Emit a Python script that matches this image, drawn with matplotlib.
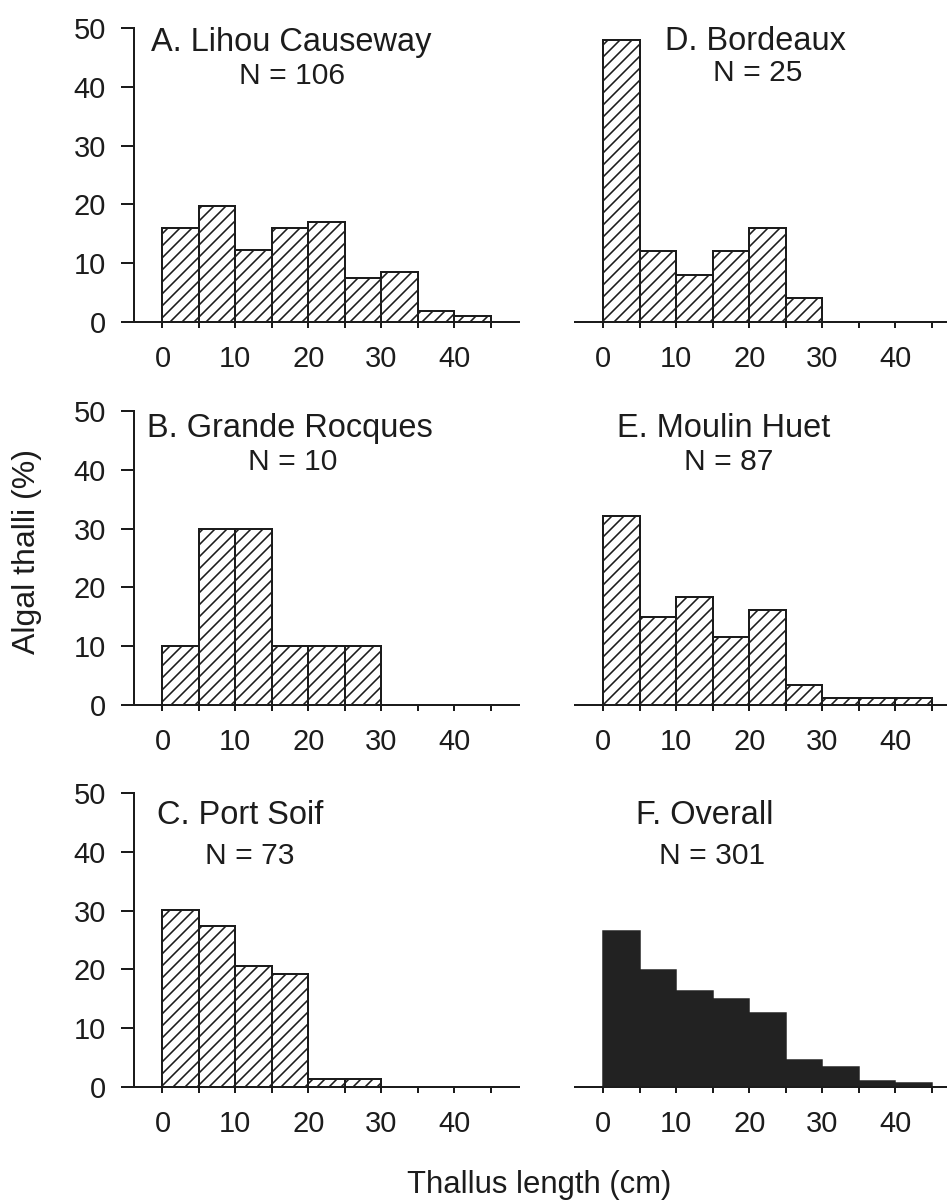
import numpy as np
import matplotlib
matplotlib.use("Agg")
import matplotlib.pyplot as plt

# bins of thallus length (cm), 5 cm wide
bin_edges = [0, 5, 10, 15, 20, 25, 30, 35, 40, 45]

# counts per bin (percent * N)
lihou = [17, 21, 13, 17, 18, 8, 9, 2, 1]
grande = [1, 3, 3, 1, 1, 1, 0, 0, 0]
portsoif = [22, 20, 15, 14, 1, 1, 0, 0, 0]
bordeaux = [12, 3, 2, 3, 4, 1, 0, 0, 0]
moulin = [28, 13, 16, 10, 14, 3, 1, 1, 1]
overall = [80, 60, 49, 45, 38, 14, 10, 3, 2]

panel_titles = ["A. Lihou Causeway", "B. Grande Rocques", "C. Port Soif",
                "D. Bordeaux", "E. Moulin Huet", "F. Overall"]
panel_n = [106, 10, 73, 25, 87, 301]

xtick_labels = ["0", "10", "20", "30", "40"]
ytick_vals = [0, 10, 20, 30, 40, 50]

plt.rcParams['font.family'] = ['Liberation Sans', 'DejaVu Sans']
plt.rcParams['hatch.linewidth'] = 1.6
ink = "#1c1c1c"

DPI = 72
fig = plt.figure(figsize=(947 / DPI, 1200 / DPI), dpi=DPI)

W, H = 947.0, 1200.0
col_left = [134, 575]
row_base = [322, 705, 1087]
ax_w = 385
ax_h = 294

# (title x, title baseline y, N x, N baseline y, title alignment)
text_pos = [
    (-1.6, 46.1, 17.8, 40.4, "left"),
    (-2.1, 45.5, 17.8, 40.0, "left"),
    (-0.8, 44.7, 12.0, 38.0, "left"),
    (20.9, 46.2, 21.1, 41.0, "center"),
    (16.5, 45.5, 17.2, 40.0, "center"),
    (13.9, 44.7, 14.9, 37.9, "center"),
]

all_counts = [lihou, grande, portsoif, bordeaux, moulin, overall]
left_edges = bin_edges[:-1]

for i in range(6):
    col = i // 3
    row = i % 3
    ax = fig.add_axes([col_left[col] / W, 1 - row_base[row] / H,
                       ax_w / W, ax_h / H])
    counts = np.array(all_counts[i], dtype=float)
    pct = counts / panel_n[i] * 100
    if i == 5:
        ax.bar(left_edges, pct, width=5, align="edge", color="#222222",
               edgecolor="#222222", linewidth=1.5, zorder=2)
    else:
        ax.bar(left_edges, pct, width=5, align="edge", color="white",
               edgecolor=ink, hatch="//", linewidth=2, zorder=2)

    ax.set_xlim(-3.9, 48.9)
    ax.set_ylim(0, 50)

    ax.spines["top"].set_visible(False)
    ax.spines["right"].set_visible(False)
    ax.spines["bottom"].set_linewidth(2)
    ax.spines["bottom"].set_color(ink)
    ax.spines["bottom"].set_zorder(3)
    ax.spines["left"].set_linewidth(2)
    ax.spines["left"].set_color(ink)

    ax.set_xticks([0, 10, 20, 30, 40])
    ax.set_xticklabels(xtick_labels)
    ax.set_xticks([5, 15, 25, 35, 45], minor=True)
    ax.tick_params(axis="x", which="both", direction="out", length=6,
                   width=2, color=ink, labelsize=29, pad=17,
                   labelcolor=ink)

    if col == 0:
        ax.set_yticks(ytick_vals)
        ax.tick_params(axis="y", direction="out", length=13, width=2,
                       color=ink, labelsize=29, pad=15, labelcolor=ink)
    else:
        ax.spines["left"].set_visible(False)
        ax.set_yticks([])

    tx, ty, nx, ny, ha = text_pos[i]
    ax.text(tx, ty, panel_titles[i], ha=ha, va="baseline", fontsize=32.5,
            color=ink)
    ax.text(nx, ny, "N = %d" % panel_n[i], ha="center", va="baseline",
            fontsize=30, color=ink)

fig.text(27 / W, 1 - 552 / H, "Algal thalli (%)", rotation=90,
         ha="center", va="center", fontsize=32, color=ink)
fig.text(539 / W, 1 - 1193 / H, "Thallus length (cm)", ha="center",
         va="baseline", fontsize=31, color=ink)

fig.savefig("out.png", dpi=DPI)
